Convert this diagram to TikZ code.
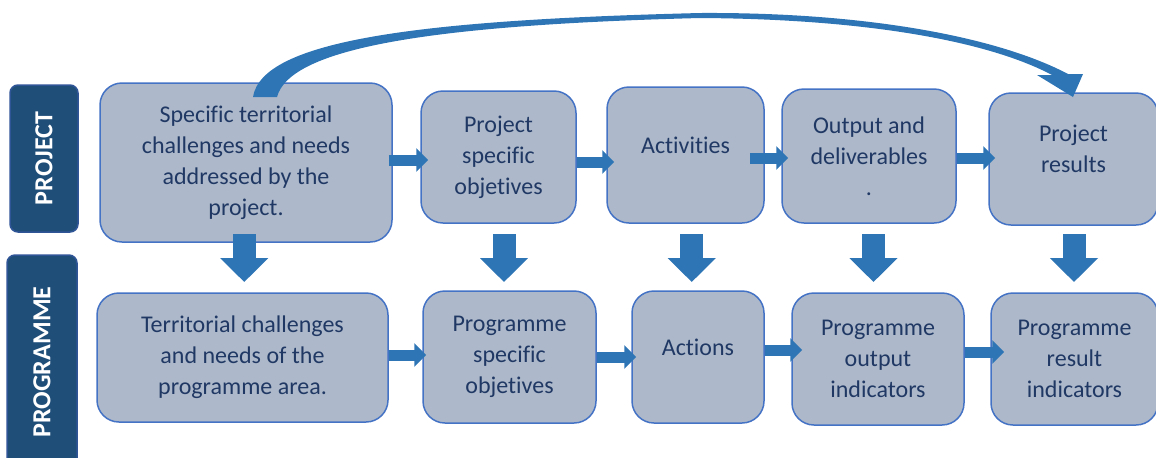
\documentclass[tikz,border=0pt]{standalone}
\usepackage{fontspec}
\setmainfont{Carlito}[Ligatures=NoCommon]
\usetikzlibrary{arrows.meta,calc}
\definecolor{boxfill}{HTML}{ADB9CA}
\definecolor{boxline}{HTML}{4472C4}
\definecolor{boxtext}{HTML}{203864}
\definecolor{arrowblue}{HTML}{2E75B6}
\definecolor{tagfill}{HTML}{1F4E79}
\definecolor{tagline}{HTML}{2F5597}
\tikzset{
  words/.style={text=boxtext, align=center, inner sep=0pt,
    font=\fontsize{12}{15.5}\selectfont},
  stage/.style={words, draw=boxline, fill=boxfill, line width=0.75pt,
    rounded corners=11pt},
  tag/.style={draw=tagline, fill=tagfill, line width=0.75pt,
    rounded corners=4pt, rotate=90, text=white, inner sep=0pt,
    font=\fontsize{13}{15}\selectfont\bfseries},
  flow/.style={draw=arrowblue, line width=5.5pt, shorten >=-4pt,
    -{Triangle[width=11.5pt,length=6pt]}},
  drop/.style={draw=arrowblue, line width=11.5pt,
    -{Triangle[width=23.5pt,length=12pt]}},
}
\begin{document}
\begin{tikzpicture}[x=0.5pt,y=-0.5pt]
  \useasboundingbox (0,0) rectangle (1156,457);
  % side tags
  \node[tag, minimum width=73.5pt, minimum height=34pt] (project) at (44,158.5) {PROJECT};
  \node[tag, minimum width=107pt, minimum height=35pt] (programme) at (42,362) {PROGRAMME};
  % project row
  \node[stage, minimum width=146pt, minimum height=79.5pt] (t1) at (246,162.5)
    {Specific territorial\\challenges and needs\\addressed by the\\project.};
  \node[stage, minimum width=77.5pt, minimum height=66pt] (t2) at (498.5,157)
    {Project\\specific\\objetives};
  \node[stage, minimum width=78.5pt, minimum height=68pt] (t3) at (685.5,155) {};
  \node[stage, minimum width=87pt, minimum height=67pt] (t4) at (869,156)
    {Output and\\deliverables\\.};
  \node[stage, minimum width=84.5pt, minimum height=66pt] (t5) at (1073.5,159) {};
  \node[words] (t3-text) at ([yshift=5pt]t3.center) {Activities};
  \node[words] (t5-text) at ([yshift=5pt]t5.center) {Project\\results};
  % programme row
  \node[stage, minimum width=145.5pt, minimum height=64.5pt] (b1) at (242.5,357.5)
    {Territorial challenges\\and needs of the\\programme area.};
  \node[stage, minimum width=86.5pt, minimum height=66pt] (b2) at (509.5,357)
    {Programme\\specific\\objetives};
  \node[stage, minimum width=66pt, minimum height=66pt] (b3) at (698,357) {};
  \node[stage, minimum width=86pt, minimum height=66pt] (b4) at (878,359)
    {Programme\\output\\indicators};
  \node[stage, minimum width=83.5pt, minimum height=66pt] (b5) at (1074.5,359)
    {Programme\\result\\indicators};
  \node[words] (b3-text) at ([yshift=5pt]b3.center) {Actions};
  % arrows along the rows
  \draw[flow, shorten <=-2pt] (t1.east |- 0,160) -- (t2.west |- 0,160);
  \draw[flow] (t2.east |- 0,162) -- (t3.west |- 0,162);
  \draw[flow, shorten <=-7.5pt, shorten >=-3.5pt] (t3.east |- 0,158) -- (t4.west |- 0,158);
  \draw[flow, shorten >=-3.5pt] (t4.east |- 0,158) -- (t5.west |- 0,158);
  \draw[flow, shorten >=-2pt] (b1.east |- 0,355) -- (b2.west |- 0,355);
  \draw[flow, shorten >=-2.5pt] (b2.east |- 0,357) -- (b3.west |- 0,357);
  \draw[flow, shorten >=-5.5pt] (b3.east |- 0,350) -- (b4.west |- 0,350);
  \draw[flow, shorten >=-7pt] (b4.east |- 0,352) -- (b5.west |- 0,352);
  % arrows between the rows
  \foreach \i in {1,...,5} {
    \coordinate (d\i) at ($(t\i.south)!.5!(b\i.north)$);
    \draw[drop] (d\i |- 0,234) -- (d\i |- 0,282);
  }
  % curved arrow over the project row
  \fill[arrowblue] (253,97) .. controls (262,40) and (420,20) .. (700,13)
    .. controls (870,12) and (1000,38) .. (1068,74) -- (1083,74) -- (1073,97)
    -- (1037,75) -- (1052,75) .. controls (990,42) and (870,19) .. (700,18)
    .. controls (430,25) and (290,48) .. (277,97) -- cycle;
\end{tikzpicture}
\end{document}
